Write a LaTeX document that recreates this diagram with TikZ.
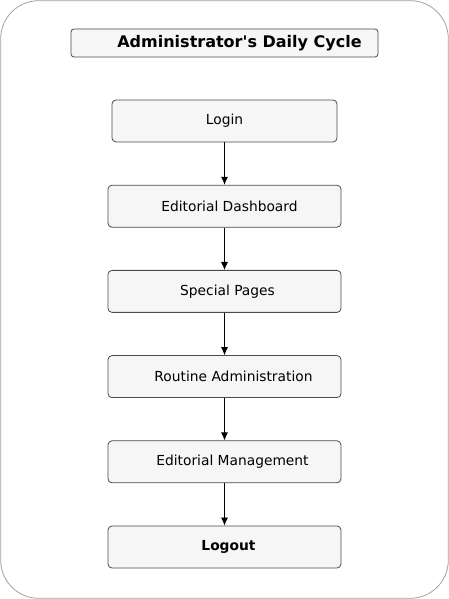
\documentclass[tikz,border=0pt]{standalone}
\usepackage{fontspec}
\setmainfont{DejaVu Sans}
\usetikzlibrary{arrows.meta,positioning}
\definecolor{boxfill}{HTML}{F6F6F6}
\definecolor{boxline}{HTML}{4A4A4A}
\definecolor{frameline}{HTML}{A0A0A0}

\begin{document}
\begin{tikzpicture}[x=1pt,y=1pt,node distance=42.4pt,>={Latex[length=8pt,width=7pt]},auto]
  \tikzstyle{stage}=[rectangle,rounded corners=4pt,thick,draw=boxline,fill=boxfill,
        minimum width=233pt,minimum height=42pt,font=\fontsize{13.8}{16}\selectfont]
  \tikzstyle{heading}=[rectangle,rounded corners=3pt,thick,draw=boxline,fill=boxfill,
        minimum width=307pt,minimum height=28pt,font=\fontsize{16}{19}\bfseries\selectfont]
  \useasboundingbox (0,0) rectangle (449,599);
  \draw [frameline,thick,rounded corners=38pt] (0.7,0.7) rectangle (448.3,598.3);
    \node [heading] (title) at (224.5,556) {\hspace*{30pt}Administrator\textquotesingle s Daily Cycle};
    \node [stage,minimum width=225pt] (login) at (224.5,478) {Login};
    \node [stage] (dash) [below=of login] {\hspace*{10pt}Editorial Dashboard};
    \node [stage] (special) [below=of dash] {\hspace*{6pt}Special Pages};
    \node [stage] (routine) [below=of special] {\hspace*{18pt}Routine Administration};
    \node [stage] (manage) [below=of routine] {\hspace*{16pt}Editorial Management};
    \node [stage,font=\fontsize{13.8}{16}\bfseries\selectfont] (logout) [below=of manage] {\hspace*{8pt}Logout};
    \draw [->,thick] (login) -- (dash);
    \draw [->,thick] (dash) -- (special);
    \draw [->,thick] (special) -- (routine);
    \draw [->,thick] (routine) -- (manage);
    \draw [->,thick] (manage) -- (logout);
\end{tikzpicture}
\end{document}
